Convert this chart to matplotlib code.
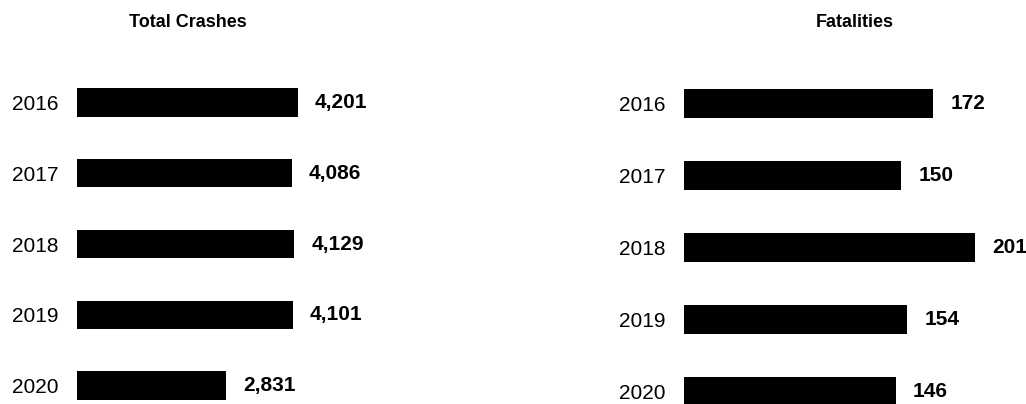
import matplotlib
matplotlib.use("Agg")
import matplotlib.pyplot as plt

plt.rcParams['font.family'] = ['Liberation Sans', 'DejaVu Sans']

years = ["2016", "2017", "2018", "2019", "2020"]
total_crashes = [4201, 4086, 4129, 4101, 2831]
fatalities = [172, 150, 201, 154, 146]

fig = plt.figure(figsize=(10.26, 4.04), dpi=100)

# axes positions in figure fractions (left, bottom, width, height)
ax_crash = fig.add_axes([77 / 1026, -0.042, 221 / 1026, 0.876])
ax_fatal = fig.add_axes([684 / 1026, -0.057, 342 / 1026, 0.889])


def draw_panel(ax, values, xmax, title, fmt):
    pos = list(range(len(years)))
    ax.barh(pos, values, height=0.4, color="black")
    ax.set_xlim(0, xmax)
    ax.set_ylim(len(years) - 0.5, -0.5)
    ax.set_yticks(pos)
    ax.set_yticklabels(years, fontsize=15)
    ax.tick_params(axis="y", length=0, pad=13)
    ax.set_xticks([])
    for s in ax.spines.values():
        s.set_visible(False)
    for p, v in zip(pos, values):
        ax.annotate(fmt(v), xy=(v, p), xytext=(17, 0), textcoords="offset pixels",
                    ha="left", va="center", fontsize=15, fontweight="bold",
                    annotation_clip=False)
    bb = ax.get_position()
    fig.text((bb.x0 + bb.x1) / 2, 0.945, title, ha="center", va="center",
             fontsize=13, fontweight="bold")


draw_panel(ax_crash, total_crashes, 4201, "Total Crashes", lambda v: f"{v:,}")
draw_panel(ax_fatal, fatalities, 236, "Fatalities", lambda v: f"{v}")

fig.savefig("out.png", dpi=100)
